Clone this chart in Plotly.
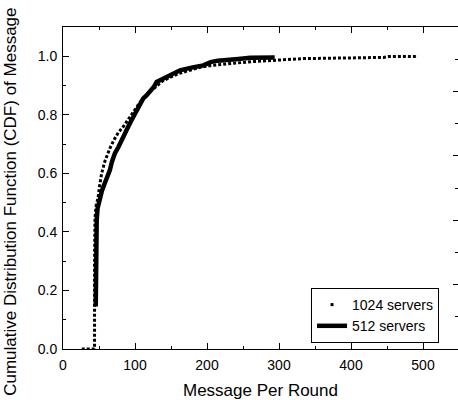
import plotly.graph_objects as go

# 1024 servers (dotted)
x1024 = [26, 40, 43.8, 43.8, 44.5, 46, 48.6, 51, 53.7, 58, 62, 65, 71, 77, 83.8, 89, 95, 102, 109,
         118, 128, 138, 148.6, 162, 176, 190, 204, 222, 241, 265, 287.5, 310, 333, 360, 390,
         420, 445, 452, 470, 493]
y1024 = [0.0, 0.0, 0.0, 0.30, 0.45, 0.49, 0.515, 0.56, 0.60, 0.64, 0.665, 0.685, 0.715, 0.74, 0.76,
         0.78, 0.80, 0.825, 0.85, 0.872, 0.895, 0.915, 0.928, 0.942, 0.952, 0.962, 0.968, 0.973, 0.977,
         0.982, 0.986, 0.989, 0.992, 0.993, 0.994, 0.995, 0.996, 0.999, 0.998, 0.999]

# 512 servers (thick solid)
x512 = [45.5, 45.6, 46.8, 48, 50.5, 54, 58, 62, 65, 68, 72, 77, 81.5, 86, 90.7, 97, 104.6, 111.5,
        116, 121, 126, 130, 140, 148.6, 162.5, 180, 195, 205, 215, 240, 260, 294]
y512 = [0.145, 0.40, 0.44, 0.48, 0.51, 0.54, 0.566, 0.59, 0.61, 0.64, 0.668, 0.69, 0.715, 0.74, 0.76,
        0.79, 0.827, 0.856, 0.866, 0.878, 0.895, 0.912, 0.925, 0.938, 0.952, 0.962, 0.969, 0.98, 0.985,
        0.99, 0.995, 0.996]

name1024 = "1024 servers"
name512 = "512 servers"
x_title = "Message Per Round"
y_title = "Cumulative Distribution Function (CDF) of Message"
x_ticks = [0, 100, 200, 300, 400, 500]
y_ticks = [0.0, 0.2, 0.4, 0.6, 0.8, 1.0]

FONT = "Liberation Sans, Arial, sans-serif"

fig = go.Figure()
fig.add_trace(go.Scatter(x=x1024, y=y1024, mode="lines", showlegend=False,
                         line=dict(color="black", width=3, dash="3px,2px")))
fig.add_trace(go.Scatter(x=[None], y=[None], mode="markers", name=name1024,
                         marker=dict(symbol="square", size=3, color="black")))
fig.add_trace(go.Scatter(x=x512, y=y512, mode="lines", name=name512,
                         line=dict(color="black", width=4.5)))
# right frame axis carrier
fig.add_trace(go.Scatter(x=[None], y=[None], xaxis="x", yaxis="y2", showlegend=False,
                         hoverinfo="skip"))

minor_common = dict(ticks="inside", ticklen=3, tickcolor="black", showgrid=False)

fig.update_layout(
    width=458, height=400,
    margin=dict(l=63, r=0, t=27, b=51),
    paper_bgcolor="white", plot_bgcolor="white",
    font=dict(family=FONT, size=14, color="black"),
    xaxis=dict(range=[0, 548.6], tickvals=x_ticks, ticks="inside", ticklen=6, tickwidth=1,
               tickcolor="black", showline=True, linecolor="black", linewidth=1, mirror="ticks",
               showgrid=False, zeroline=False, automargin=False, ticklabelstandoff=3,
               minor=dict(dtick=50, tick0=0, **minor_common),
               title=dict(text=x_title, font=dict(size=17), standoff=12)),
    yaxis=dict(range=[0, 1.1], tickvals=y_ticks, tickformat=".1f", ticks="inside", ticklen=6,
               tickwidth=1, tickcolor="black", showline=True, linecolor="black", linewidth=1,
               showgrid=False, zeroline=False, automargin=False, ticklabelstandoff=2,
               minor=dict(dtick=0.1, tick0=0, **minor_common)),
    yaxis2=dict(overlaying="y", anchor="x", side="right", range=[0, 5], type="linear",
                tickmode="linear", tick0=0, dtick=1, ticks="inside", ticklen=5, tickwidth=1,
                tickcolor="black", showticklabels=False, automargin=False,
                showline=False, showgrid=False, zeroline=False,
                minor=dict(dtick=0.5, tick0=0, **minor_common)),
    legend=dict(x=0.79, y=0.104, xanchor="center", yanchor="middle",
                bordercolor="black", borderwidth=1, bgcolor="white",
                font=dict(size=14), tracegroupgap=0),
    showlegend=True,
    annotations=[dict(text=y_title, textangle=-90, xref="paper", yref="paper",
                      x=-0.133, y=0.4586, xanchor="center", yanchor="middle",
                      showarrow=False, font=dict(size=17))],
)

fig.write_html("out.html", config={"displayModeBar": False},
               post_script="document.body.style.margin='0px';")
